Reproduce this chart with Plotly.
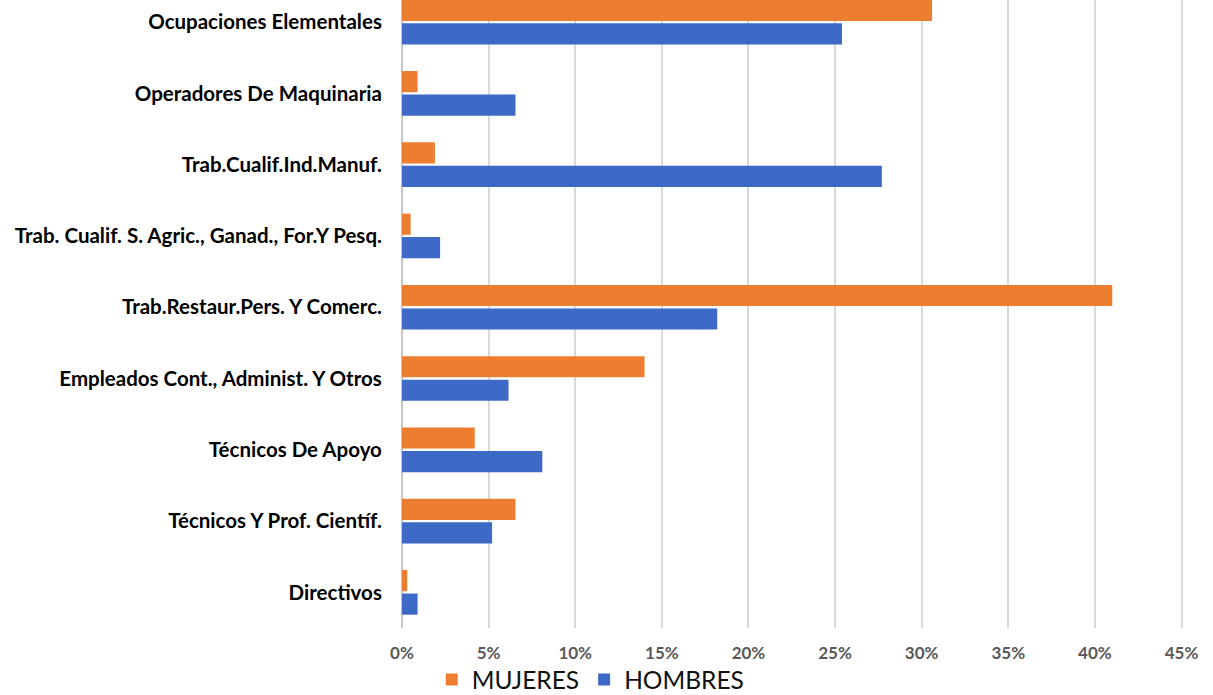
import plotly.graph_objects as go

categories = [
    "Directivos",
    "Técnicos Y Prof. Científ.",
    "Técnicos De Apoyo",
    "Empleados Cont., Administ. Y Otros",
    "Trab.Restaur.Pers. Y Comerc.",
    "Trab. Cualif. S. Agric., Ganad., For.Y Pesq.",
    "Trab.Cualif.Ind.Manuf.",
    "Operadores De Maquinaria",
    "Ocupaciones Elementales",
]
mujeres = [0.3, 6.55, 4.2, 14.0, 41.0, 0.5, 1.9, 0.9, 30.6]
hombres = [0.9, 5.2, 8.1, 6.15, 18.2, 2.2, 27.7, 6.55, 25.4]
x_ticks = [0, 5, 10, 15, 20, 25, 30, 35, 40, 45]
x_tick_labels = [f"{v}%" for v in x_ticks]

fig = go.Figure()
fig.add_trace(go.Bar(
    y=categories, x=hombres, orientation="h", name="HOMBRES",
    marker=dict(color="#3D6AC6", line=dict(width=0)), legendrank=2,
))
fig.add_trace(go.Bar(
    y=categories, x=mujeres, orientation="h", name="MUJERES",
    marker=dict(color="#ED7D31", line=dict(width=0)), legendrank=1,
))

fig.update_layout(
    width=1213, height=695,
    margin=dict(l=402, r=28, t=0, b=67, pad=0, autoexpand=False),
    paper_bgcolor="white", plot_bgcolor="white",
    barmode="group", bargap=0.34, bargroupgap=0.1,
    font=dict(family="Lato", color="#000000"),
    legend=dict(
        orientation="h", x=0.038, xanchor="left", y=-0.082, yanchor="middle",
        font=dict(family="Lato", size=24.5, color="#111111"),
        itemwidth=30, tracegroupgap=0, bgcolor="rgba(0,0,0,0)",
    ),
    showlegend=True,
)
fig.update_xaxes(
    range=[0, 45.2], tickvals=x_ticks, ticktext=x_tick_labels,
    automargin=False,
    showgrid=True, gridcolor="#D9D9D9", gridwidth=1.5,
    zeroline=True, zerolinecolor="#C8C8C8", zerolinewidth=1.5,
    showline=False,
    ticks="outside", ticklen=10, tickcolor="rgba(0,0,0,0)",
    tickfont=dict(family="Lato", size=17, weight="bold", color="#595959"),
    fixedrange=True,
)
fig.update_yaxes(
    type="category", categoryorder="array", categoryarray=categories,
    range=[-0.5, 8.31], automargin=False,
    showgrid=False, zeroline=False, showline=False,
    ticks="outside", ticklen=15, tickcolor="rgba(0,0,0,0)",
    tickfont=dict(family="Lato", size=20.5, weight="bold", color="#000000"),
    fixedrange=True,
)

fig.write_html(
    "out.html",
    config={"displayModeBar": False},
    post_script="document.body.style.margin='0';document.body.style.overflow='hidden';",
)
